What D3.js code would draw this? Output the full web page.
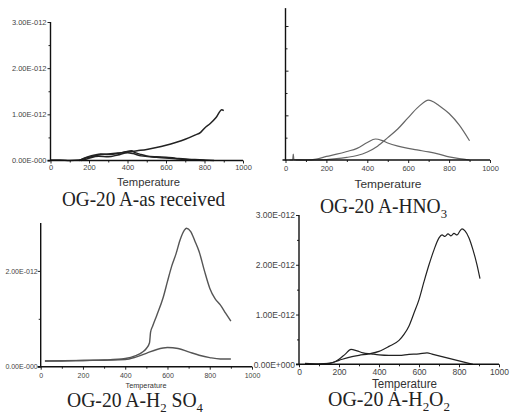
<!DOCTYPE html>
<html>
<head>
<meta charset="UTF-8">
<script src="https://d3js.org/d3.v7.min.js"></script>
<style>
  body { margin: 0; background: #fff; }
  svg { display: block; }
  .tick text { font-family: "Liberation Sans", Arial, sans-serif; fill: #444; }
  .xlab { font-family: "Liberation Sans", Arial, sans-serif; fill: #333; }
  .ttl { font-family: "Liberation Serif", "Times New Roman", serif; fill: #222; }
</style>
</head>
<body>
<svg id="fig" width="511" height="415"></svg>
<script>
// all signal values in units of 1E-12, temperature on x
const xTicks = [0, 200, 400, 600, 800, 1000];
const xMinor = [100, 300, 500, 700, 900];
const yLabelsMinus = ["0.00E-000", "1.00E-012", "2.00E-012", "3.00E-012"];
const yLabelsPlus = ["0.00E+000", "1.00E-012", "2.00E-012", "3.00E-012"];

// OG-20 A-as received
const asRec1 = [[0,0.01],[50,0.01],[100,0.0],[150,0.01],[180,0.05],[200,0.07],[250,0.12],[300,0.14],[350,0.16],[400,0.18],[450,0.21],[500,0.24],[550,0.28],[600,0.33],[650,0.39],[700,0.46],[750,0.55],[780,0.61],[800,0.7],[830,0.8],[860,0.93],[890,1.1],[900,1.08]];
const asRec2 = [[150,0.0],[175,0.05],[200,0.09],[230,0.12],[260,0.14],[300,0.13],[350,0.15],[390,0.19],[420,0.21],[440,0.17],[470,0.13],[500,0.1],[550,0.08],[600,0.07],[650,0.05],[700,0.03],[750,0.02],[800,0.01],[850,0.0]];
const asRec3 = [[160,0.0],[200,0.05],[250,0.09],[300,0.08],[350,0.12],[400,0.17],[430,0.15],[470,0.1],[550,0.07],[650,0.04],[750,0.01],[800,0.0]];

// OG-20 A-HNO3
const hno3A = [[20,0.0],[35,0.0],[38,0.13],[41,0.01],[100,0.0],[150,0.0],[200,0.01],[250,0.03],[300,0.06],[350,0.1],[400,0.18],[450,0.31],[500,0.5],[550,0.7],[600,0.95],[650,1.19],[700,1.34],[725,1.3],[750,1.22],[800,1.04],[850,0.78],[900,0.43]];
const hno3B = [[50,0.0],[100,0.0],[150,0.02],[200,0.08],[250,0.13],[300,0.19],[350,0.26],[400,0.39],[440,0.47],[470,0.44],[500,0.38],[550,0.31],[600,0.26],[650,0.22],[700,0.18],[750,0.13],[800,0.07],[850,0.03],[900,0.0]];

// OG-20 A-H2SO4
const h2so4A = [[20,0.12],[100,0.12],[200,0.13],[300,0.14],[400,0.17],[450,0.23],[480,0.3],[500,0.38],[515,0.5],[520,0.72],[530,0.85],[550,1.08],[580,1.45],[600,1.78],[620,2.1],[640,2.35],[660,2.65],[680,2.85],[690,2.89],[710,2.82],[730,2.62],[750,2.4],[775,2.0],[800,1.64],[825,1.42],[850,1.29],[875,1.12],[900,0.95]];
const h2so4B = [[20,0.12],[200,0.13],[400,0.15],[450,0.2],[500,0.28],[550,0.36],[600,0.4],[650,0.38],[700,0.31],[750,0.24],[800,0.19],[850,0.16],[900,0.16]];

// OG-20 A-H2O2
const h2o2A = [[30,0.02],[100,0.01],[150,0.02],[200,0.08],[250,0.14],[300,0.18],[350,0.21],[400,0.26],[450,0.36],[500,0.48],[525,0.6],[550,0.77],[575,1.03],[600,1.3],[625,1.66],[650,2.0],[675,2.3],[700,2.54],[715,2.6],[730,2.57],[745,2.62],[760,2.58],[775,2.63],[790,2.6],[805,2.68],[815,2.72],[830,2.68],[850,2.54],[870,2.3],[890,2.0],[905,1.72]];
const h2o2B = [[100,0.0],[150,0.02],[180,0.05],[200,0.1],[230,0.2],[260,0.3],[290,0.27],[320,0.23],[360,0.21],[400,0.19],[450,0.18],[500,0.18],[550,0.2],[600,0.21],[640,0.23],[670,0.2],[720,0.15],[780,0.09],[830,0.04],[870,0.0]];

const svg = d3.select("#fig");
svg.append("rect").attr("width", 511).attr("height", 415).attr("fill", "#fff");

// layout of the four panels
const panels = [
  { x0: 50.5, x1: 243, y0: 160.5, y3: 22, yTop: 3, series: [asRec1, asRec2, asRec3],
    stroke: "#222", sw: 1.5, yTicks: [0,1,2,3], yMinor: [0.5,1.5,2.5], yLabels: yLabelsMinus,
    showY: true, inward: false, fs: 7.5, ypad: 1, xpad: 1.5,
    temp: { x: 148.5, y: 186, fs: 10.5, len: 63 },
    title: { x: 62, y: 206, fs: 21, len: 163, parts: [["OG-20 A-as received", 0]] } },
  { x0: 285.5, x1: 490, y0: 160, y3: 26, yTop: 3.4, series: [hno3A, hno3B],
    stroke: "#666", sw: 1.2, yTicks: [1,2,3], yMinor: [0.5,1.5,2.5], yLabels: yLabelsMinus,
    showY: false, inward: true, fs: 7.5, ypad: 1, xpad: 2.7,
    temp: { x: 388, y: 188, fs: 11, len: 67 },
    title: { x: 320, y: 213, fs: 20, len: 127, parts: [["OG-20 A-HNO", 0], ["3", 1]] } },
  { x0: 40.7, x1: 252, y0: 366.7, y3: 223, yTop: 3, series: [h2so4A, h2so4B],
    stroke: "#555", sw: 1.4, yTicks: [0,2], yMinor: [1], yLabels: yLabelsMinus,
    showY: true, inward: false, fs: 7, ypad: 0, xpad: 3,
    temp: { x: 146, y: 388, fs: 6.5, len: 41 },
    title: { x: 67, y: 407, fs: 20, len: 136, parts: [["OG-20 A-H", 0], ["2", 1], [" SO", 0], ["4", 1]] } },
  { x0: 299, x1: 499, y0: 364.3, y3: 215, yTop: 3, series: [h2o2A, h2o2B],
    stroke: "#222", sw: 1.2, yTicks: [0,1,2,3], yMinor: [0.5,1.5,2.5], yLabels: yLabelsPlus,
    showY: true, inward: false, fs: 8.5, ypad: 1, xpad: 2,
    temp: { x: 404.5, y: 387.5, fs: 12, len: 65 },
    title: { x: 328, y: 406, fs: 20, len: 122, parts: [["OG-20 A-H", 0], ["2", 1], ["O", 0], ["2", 1]] } }
];

panels.forEach(p => {
  const x = d3.scaleLinear().domain([0, 1000]).range([p.x0, p.x1]);
  const y = d3.scaleLinear().domain([0, 3]).range([p.y0, p.y3]);
  const g = svg.append("g");

  // curves
  const line = d3.line().x(d => x(d[0])).y(d => y(d[1])).curve(d3.curveMonotoneX);
  p.series.forEach(s => {
    g.append("path").datum(s).attr("d", line)
      .attr("fill", "none").attr("stroke", p.stroke).attr("stroke-width", p.sw)
      .attr("stroke-linejoin", "round");
  });

  // x axis
  const xa = g.append("g").attr("transform", `translate(0,${p.y0})`)
    .call(d3.axisBottom(x).tickValues(xTicks).tickFormat(d3.format("d"))
      .tickSize(3).tickPadding(p.xpad).tickSizeOuter(0));
  xa.select(".domain").remove();
  xa.selectAll("text").style("font-size", p.fs + "px");
  g.append("g").attr("transform", `translate(0,${p.y0})`)
    .call(d3.axisBottom(x).tickValues(xMinor).tickSize(2).tickFormat(""))
    .select(".domain").remove();

  // y axis
  const yAxis = (p.inward ? d3.axisRight(y) : d3.axisLeft(y))
    .tickValues(p.yTicks).tickSize(3).tickPadding(p.ypad)
    .tickFormat(d => p.showY ? p.yLabels[d] : "");
  const ya = g.append("g").attr("transform", `translate(${p.x0},0)`).call(yAxis);
  ya.select(".domain").remove();
  ya.selectAll("text").style("font-size", p.fs + "px");
  g.append("g").attr("transform", `translate(${p.x0},0)`)
    .call((p.inward ? d3.axisRight(y) : d3.axisLeft(y)).tickValues(p.yMinor).tickSize(2).tickFormat(""))
    .select(".domain").remove();

  g.selectAll(".tick line").attr("stroke", "#222");

  // axis lines
  g.append("line").attr("x1", p.x0).attr("x2", p.x0).attr("y1", y(p.yTop)).attr("y2", p.y0 + 0.5)
    .attr("stroke", "#111").attr("stroke-width", 1.4);
  g.append("line").attr("x1", p.x0 - 3).attr("x2", x(1000)).attr("y1", p.y0).attr("y2", p.y0)
    .attr("stroke", "#111").attr("stroke-width", 1.4);

  // axis title
  g.append("text").attr("class", "xlab")
    .attr("x", p.temp.x).attr("y", p.temp.y).attr("text-anchor", "middle")
    .attr("textLength", p.temp.len).attr("lengthAdjust", "spacingAndGlyphs")
    .style("font-size", p.temp.fs + "px").text("Temperature");

  // panel caption with subscripts
  const t = g.append("text").attr("class", "ttl")
    .attr("x", p.title.x).attr("y", p.title.y)
    .attr("textLength", p.title.len).attr("lengthAdjust", "spacingAndGlyphs")
    .style("font-size", p.title.fs + "px");
  let low = false;
  p.title.parts.forEach(([str, sub]) => {
    const sp = t.append("tspan").text(str);
    if (sub && !low) { sp.attr("dy", 5).style("font-size", (p.title.fs * 0.65) + "px"); low = true; }
    else if (!sub && low) { sp.attr("dy", -5); low = false; }
    else if (sub) sp.style("font-size", (p.title.fs * 0.65) + "px");
  });
});
</script>
</body>
</html>
